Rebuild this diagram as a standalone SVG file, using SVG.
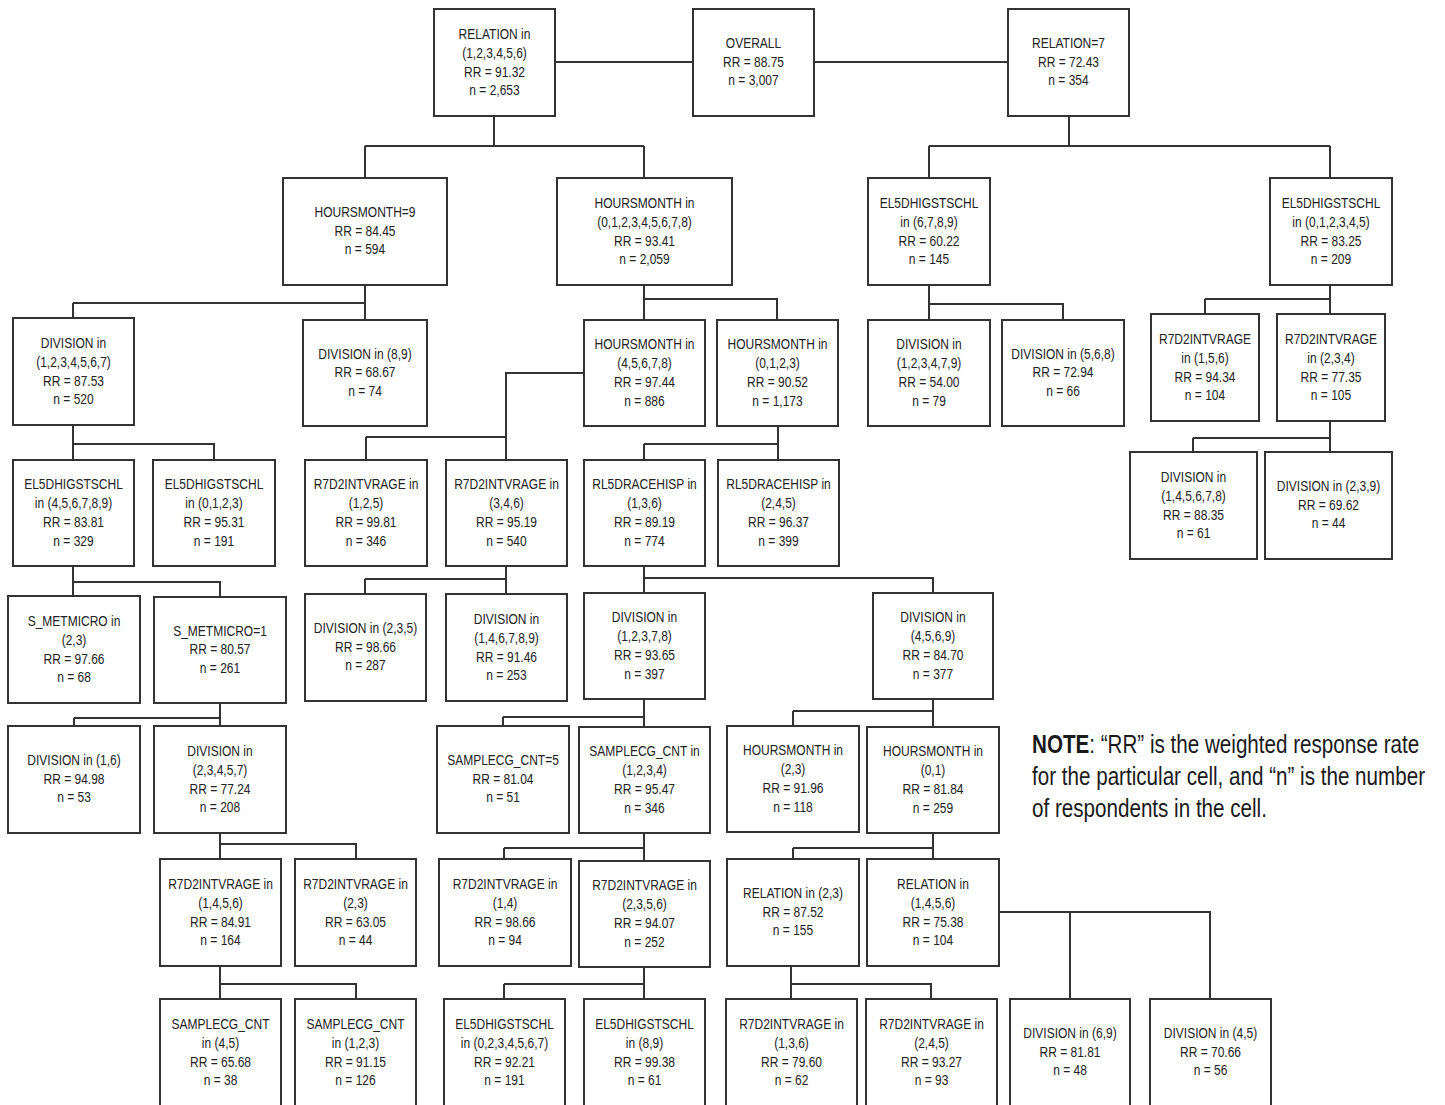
<svg xmlns="http://www.w3.org/2000/svg" width="1445" height="1105" viewBox="0 0 1445 1105">
<style>
.box{fill:#fff;stroke:#333;stroke-width:2}
.t{font-family:"Liberation Sans",Arial,sans-serif;font-size:15px;fill:#222;text-anchor:middle}
.note{font-family:"Liberation Sans",Arial,sans-serif;font-size:25px;fill:#1a1a1a}
#connectors path{fill:none;stroke:#333;stroke-width:2}
</style>
<rect width="1445" height="1105" fill="#fff"/>
<g id="connectors">
<path d="M555 62H693 M814 62H1008"/>
<path d="M494 116V146 M365 146H644 M365 146V178 M644 146V178"/>
<path d="M1069 116V146 M929 146H1330 M929 146V178 M1330 146V178"/>
<path d="M365 285V320 M73 303H365 M73 303V318"/>
<path d="M644 285V320 M644 299H777V320"/>
<path d="M929 285V320 M929 304H1063V320"/>
<path d="M1330 285V314 M1205 299H1330 M1205 299V314"/>
<path d="M73 425V460 M73 444H214V460"/>
<path d="M584 373H506V460 M366 437H506 M366 437V460"/>
<path d="M778 426V460 M644 444H778 M644 444V460"/>
<path d="M1330 421V452 M1193 438H1330 M1193 438V452"/>
<path d="M73 566V596 M73 582H220V597"/>
<path d="M506 566V594 M365 579H506 M365 579V594"/>
<path d="M644 566V593 M644 578H933V593"/>
<path d="M220 703V726 M74 718H220 M74 718V726"/>
<path d="M644 699V727 M503 717H644 M503 717V726"/>
<path d="M933 699V727 M793 711H933 M793 711V726"/>
<path d="M220 833V859 M220 844H356V859"/>
<path d="M644 833V861 M504 848H644 M504 848V859"/>
<path d="M933 833V859 M793 848H933 M793 848V859"/>
<path d="M220 966V999 M220 984H356V999"/>
<path d="M644 967V999 M504 984H644 M504 984V999"/>
<path d="M791 966V999 M791 984H931V999"/>
<path d="M999 912H1210V999 M1070 912V999"/>
</g>

<g id="n1"><rect class="box" x="434" y="9" width="121" height="107"/>
<text class="t" transform="translate(494.5 0) scale(0.8 1)"><tspan x="0" y="39">RELATION in</tspan><tspan x="0" y="57.8">(1,2,3,4,5,6)</tspan><tspan x="0" y="76.6">RR = 91.32</tspan><tspan x="0" y="95.4">n = 2,653</tspan></text></g>
<g id="n0"><rect class="box" x="693" y="9" width="121" height="107"/>
<text class="t" transform="translate(753.5 0) scale(0.8 1)"><tspan x="0" y="48.5">OVERALL</tspan><tspan x="0" y="67">RR = 88.75</tspan><tspan x="0" y="85.5">n = 3,007</tspan></text></g>
<g id="n2"><rect class="box" x="1008" y="9" width="121" height="107"/>
<text class="t" transform="translate(1068.5 0) scale(0.8 1)"><tspan x="0" y="48.5">RELATION=7</tspan><tspan x="0" y="67">RR = 72.43</tspan><tspan x="0" y="85.5">n = 354</tspan></text></g>

<g id="n3"><rect class="box" x="283" y="178" width="164" height="107"/>
<text class="t" transform="translate(365 0) scale(0.8 1)"><tspan x="0" y="217.5">HOURSMONTH=9</tspan><tspan x="0" y="236">RR = 84.45</tspan><tspan x="0" y="254.5">n = 594</tspan></text></g>
<g id="n4"><rect class="box" x="557" y="178" width="175" height="107"/>
<text class="t" transform="translate(644.5 0) scale(0.8 1)"><tspan x="0" y="208">HOURSMONTH in</tspan><tspan x="0" y="226.8">(0,1,2,3,4,5,6,7,8)</tspan><tspan x="0" y="245.6">RR = 93.41</tspan><tspan x="0" y="264.4">n = 2,059</tspan></text></g>
<g id="n5"><rect class="box" x="868" y="178" width="122" height="107"/>
<text class="t" transform="translate(929 0) scale(0.8 1)"><tspan x="0" y="208">EL5DHIGSTSCHL</tspan><tspan x="0" y="226.8">in (6,7,8,9)</tspan><tspan x="0" y="245.6">RR = 60.22</tspan><tspan x="0" y="264.4">n = 145</tspan></text></g>
<g id="n6"><rect class="box" x="1270" y="178" width="122" height="107"/>
<text class="t" transform="translate(1331 0) scale(0.8 1)"><tspan x="0" y="208">EL5DHIGSTSCHL</tspan><tspan x="0" y="226.8">in (0,1,2,3,4,5)</tspan><tspan x="0" y="245.6">RR = 83.25</tspan><tspan x="0" y="264.4">n = 209</tspan></text></g>

<g id="n7"><rect class="box" x="13" y="318" width="121" height="107"/>
<text class="t" transform="translate(73.5 0) scale(0.8 1)"><tspan x="0" y="348">DIVISION in</tspan><tspan x="0" y="366.8">(1,2,3,4,5,6,7)</tspan><tspan x="0" y="385.6">RR = 87.53</tspan><tspan x="0" y="404.4">n = 520</tspan></text></g>
<g id="n8"><rect class="box" x="303" y="320" width="124" height="106"/>
<text class="t" transform="translate(365 0) scale(0.8 1)"><tspan x="0" y="359">DIVISION in (8,9)</tspan><tspan x="0" y="377.5">RR = 68.67</tspan><tspan x="0" y="396">n = 74</tspan></text></g>
<g id="n9"><rect class="box" x="584" y="320" width="121" height="106"/>
<text class="t" transform="translate(644.5 0) scale(0.8 1)"><tspan x="0" y="349.5">HOURSMONTH in</tspan><tspan x="0" y="368.3">(4,5,6,7,8)</tspan><tspan x="0" y="387.1">RR = 97.44</tspan><tspan x="0" y="405.9">n = 886</tspan></text></g>
<g id="n10"><rect class="box" x="717" y="320" width="121" height="106"/>
<text class="t" transform="translate(777.5 0) scale(0.8 1)"><tspan x="0" y="349.5">HOURSMONTH in</tspan><tspan x="0" y="368.3">(0,1,2,3)</tspan><tspan x="0" y="387.1">RR = 90.52</tspan><tspan x="0" y="405.9">n = 1,173</tspan></text></g>
<g id="n11"><rect class="box" x="868" y="320" width="122" height="106"/>
<text class="t" transform="translate(929 0) scale(0.8 1)"><tspan x="0" y="349.5">DIVISION in</tspan><tspan x="0" y="368.3">(1,2,3,4,7,9)</tspan><tspan x="0" y="387.1">RR = 54.00</tspan><tspan x="0" y="405.9">n = 79</tspan></text></g>
<g id="n12"><rect class="box" x="1002" y="320" width="122" height="106"/>
<text class="t" transform="translate(1063 0) scale(0.8 1)"><tspan x="0" y="359">DIVISION in (5,6,8)</tspan><tspan x="0" y="377.5">RR = 72.94</tspan><tspan x="0" y="396">n = 66</tspan></text></g>
<g id="n13"><rect class="box" x="1151" y="314" width="108" height="107"/>
<text class="t" transform="translate(1205 0) scale(0.8 1)"><tspan x="0" y="344">R7D2INTVRAGE</tspan><tspan x="0" y="362.8">in (1,5,6)</tspan><tspan x="0" y="381.6">RR = 94.34</tspan><tspan x="0" y="400.4">n = 104</tspan></text></g>
<g id="n14"><rect class="box" x="1277" y="314" width="108" height="107"/>
<text class="t" transform="translate(1331 0) scale(0.8 1)"><tspan x="0" y="344">R7D2INTVRAGE</tspan><tspan x="0" y="362.8">in (2,3,4)</tspan><tspan x="0" y="381.6">RR = 77.35</tspan><tspan x="0" y="400.4">n = 105</tspan></text></g>

<g id="n15"><rect class="box" x="13" y="460" width="121" height="106"/>
<text class="t" transform="translate(73.5 0) scale(0.8 1)"><tspan x="0" y="489.5">EL5DHIGSTSCHL</tspan><tspan x="0" y="508.3">in (4,5,6,7,8,9)</tspan><tspan x="0" y="527.1">RR = 83.81</tspan><tspan x="0" y="545.9">n = 329</tspan></text></g>
<g id="n16"><rect class="box" x="153" y="460" width="122" height="106"/>
<text class="t" transform="translate(214 0) scale(0.8 1)"><tspan x="0" y="489.5">EL5DHIGSTSCHL</tspan><tspan x="0" y="508.3">in (0,1,2,3)</tspan><tspan x="0" y="527.1">RR = 95.31</tspan><tspan x="0" y="545.9">n = 191</tspan></text></g>
<g id="n17"><rect class="box" x="305" y="460" width="122" height="106"/>
<text class="t" transform="translate(366 0) scale(0.8 1)"><tspan x="0" y="489.5">R7D2INTVRAGE in</tspan><tspan x="0" y="508.3">(1,2,5)</tspan><tspan x="0" y="527.1">RR = 99.81</tspan><tspan x="0" y="545.9">n = 346</tspan></text></g>
<g id="n18"><rect class="box" x="446" y="460" width="121" height="106"/>
<text class="t" transform="translate(506.5 0) scale(0.8 1)"><tspan x="0" y="489.5">R7D2INTVRAGE in</tspan><tspan x="0" y="508.3">(3,4,6)</tspan><tspan x="0" y="527.1">RR = 95.19</tspan><tspan x="0" y="545.9">n = 540</tspan></text></g>
<g id="n19"><rect class="box" x="584" y="460" width="121" height="106"/>
<text class="t" transform="translate(644.5 0) scale(0.8 1)"><tspan x="0" y="489.5">RL5DRACEHISP in</tspan><tspan x="0" y="508.3">(1,3,6)</tspan><tspan x="0" y="527.1">RR = 89.19</tspan><tspan x="0" y="545.9">n = 774</tspan></text></g>
<g id="n20"><rect class="box" x="718" y="460" width="121" height="106"/>
<text class="t" transform="translate(778.5 0) scale(0.8 1)"><tspan x="0" y="489.5">RL5DRACEHISP in</tspan><tspan x="0" y="508.3">(2,4,5)</tspan><tspan x="0" y="527.1">RR = 96.37</tspan><tspan x="0" y="545.9">n = 399</tspan></text></g>
<g id="n21"><rect class="box" x="1130" y="452" width="127" height="107"/>
<text class="t" transform="translate(1193.5 0) scale(0.8 1)"><tspan x="0" y="482">DIVISION in</tspan><tspan x="0" y="500.8">(1,4,5,6,7,8)</tspan><tspan x="0" y="519.6">RR = 88.35</tspan><tspan x="0" y="538.4">n = 61</tspan></text></g>
<g id="n22"><rect class="box" x="1265" y="452" width="127" height="107"/>
<text class="t" transform="translate(1328.5 0) scale(0.8 1)"><tspan x="0" y="491.5">DIVISION in (2,3,9)</tspan><tspan x="0" y="510">RR = 69.62</tspan><tspan x="0" y="528.5">n = 44</tspan></text></g>

<g id="n23"><rect class="box" x="8" y="596" width="132" height="107"/>
<text class="t" transform="translate(74 0) scale(0.8 1)"><tspan x="0" y="626">S_METMICRO in</tspan><tspan x="0" y="644.8">(2,3)</tspan><tspan x="0" y="663.6">RR = 97.66</tspan><tspan x="0" y="682.4">n = 68</tspan></text></g>
<g id="n24"><rect class="box" x="154" y="597" width="132" height="106"/>
<text class="t" transform="translate(220 0) scale(0.8 1)"><tspan x="0" y="636">S_METMICRO=1</tspan><tspan x="0" y="654.5">RR = 80.57</tspan><tspan x="0" y="673">n = 261</tspan></text></g>
<g id="n25"><rect class="box" x="305" y="594" width="121" height="107"/>
<text class="t" transform="translate(365.5 0) scale(0.8 1)"><tspan x="0" y="633.5">DIVISION in (2,3,5)</tspan><tspan x="0" y="652">RR = 98.66</tspan><tspan x="0" y="670.5">n = 287</tspan></text></g>
<g id="n26"><rect class="box" x="446" y="594" width="121" height="107"/>
<text class="t" transform="translate(506.5 0) scale(0.8 1)"><tspan x="0" y="624">DIVISION in</tspan><tspan x="0" y="642.8">(1,4,6,7,8,9)</tspan><tspan x="0" y="661.6">RR = 91.46</tspan><tspan x="0" y="680.4">n = 253</tspan></text></g>
<g id="n27"><rect class="box" x="584" y="593" width="121" height="106"/>
<text class="t" transform="translate(644.5 0) scale(0.8 1)"><tspan x="0" y="622.5">DIVISION in</tspan><tspan x="0" y="641.3">(1,2,3,7,8)</tspan><tspan x="0" y="660.1">RR = 93.65</tspan><tspan x="0" y="678.9">n = 397</tspan></text></g>
<g id="n28"><rect class="box" x="873" y="593" width="120" height="106"/>
<text class="t" transform="translate(933 0) scale(0.8 1)"><tspan x="0" y="622.5">DIVISION in</tspan><tspan x="0" y="641.3">(4,5,6,9)</tspan><tspan x="0" y="660.1">RR = 84.70</tspan><tspan x="0" y="678.9">n = 377</tspan></text></g>

<g id="n29"><rect class="box" x="8" y="726" width="132" height="107"/>
<text class="t" transform="translate(74 0) scale(0.8 1)"><tspan x="0" y="765.5">DIVISION in (1,6)</tspan><tspan x="0" y="784">RR = 94.98</tspan><tspan x="0" y="802.5">n = 53</tspan></text></g>
<g id="n30"><rect class="box" x="154" y="726" width="132" height="107"/>
<text class="t" transform="translate(220 0) scale(0.8 1)"><tspan x="0" y="756">DIVISION in</tspan><tspan x="0" y="774.8">(2,3,4,5,7)</tspan><tspan x="0" y="793.6">RR = 77.24</tspan><tspan x="0" y="812.4">n = 208</tspan></text></g>
<g id="n31"><rect class="box" x="437" y="726" width="132" height="107"/>
<text class="t" transform="translate(503 0) scale(0.8 1)"><tspan x="0" y="765.5">SAMPLECG_CNT=5</tspan><tspan x="0" y="784">RR = 81.04</tspan><tspan x="0" y="802.5">n = 51</tspan></text></g>
<g id="n32"><rect class="box" x="579" y="727" width="131" height="106"/>
<text class="t" transform="translate(644.5 0) scale(0.8 1)"><tspan x="0" y="756.5">SAMPLECG_CNT in</tspan><tspan x="0" y="775.3">(1,2,3,4)</tspan><tspan x="0" y="794.1">RR = 95.47</tspan><tspan x="0" y="812.9">n = 346</tspan></text></g>
<g id="n33"><rect class="box" x="727" y="726" width="132" height="106"/>
<text class="t" transform="translate(793 0) scale(0.8 1)"><tspan x="0" y="755.5">HOURSMONTH in</tspan><tspan x="0" y="774.3">(2,3)</tspan><tspan x="0" y="793.1">RR = 91.96</tspan><tspan x="0" y="811.9">n = 118</tspan></text></g>
<g id="n34"><rect class="box" x="867" y="727" width="132" height="106"/>
<text class="t" transform="translate(933 0) scale(0.8 1)"><tspan x="0" y="756.5">HOURSMONTH in</tspan><tspan x="0" y="775.3">(0,1)</tspan><tspan x="0" y="794.1">RR = 81.84</tspan><tspan x="0" y="812.9">n = 259</tspan></text></g>

<g id="n35"><rect class="box" x="160" y="859" width="121" height="107"/>
<text class="t" transform="translate(220.5 0) scale(0.8 1)"><tspan x="0" y="889">R7D2INTVRAGE in</tspan><tspan x="0" y="907.8">(1,4,5,6)</tspan><tspan x="0" y="926.6">RR = 84.91</tspan><tspan x="0" y="945.4">n = 164</tspan></text></g>
<g id="n36"><rect class="box" x="295" y="859" width="121" height="107"/>
<text class="t" transform="translate(355.5 0) scale(0.8 1)"><tspan x="0" y="889">R7D2INTVRAGE in</tspan><tspan x="0" y="907.8">(2,3)</tspan><tspan x="0" y="926.6">RR = 63.05</tspan><tspan x="0" y="945.4">n = 44</tspan></text></g>
<g id="n37"><rect class="box" x="439" y="859" width="132" height="107"/>
<text class="t" transform="translate(505 0) scale(0.8 1)"><tspan x="0" y="889">R7D2INTVRAGE in</tspan><tspan x="0" y="907.8">(1,4)</tspan><tspan x="0" y="926.6">RR = 98.66</tspan><tspan x="0" y="945.4">n = 94</tspan></text></g>
<g id="n38"><rect class="box" x="579" y="861" width="131" height="106"/>
<text class="t" transform="translate(644.5 0) scale(0.8 1)"><tspan x="0" y="890.5">R7D2INTVRAGE in</tspan><tspan x="0" y="909.3">(2,3,5,6)</tspan><tspan x="0" y="928.1">RR = 94.07</tspan><tspan x="0" y="946.9">n = 252</tspan></text></g>
<g id="n39"><rect class="box" x="727" y="859" width="132" height="107"/>
<text class="t" transform="translate(793 0) scale(0.8 1)"><tspan x="0" y="898.5">RELATION in (2,3)</tspan><tspan x="0" y="917">RR = 87.52</tspan><tspan x="0" y="935.5">n = 155</tspan></text></g>
<g id="n40"><rect class="box" x="867" y="859" width="132" height="107"/>
<text class="t" transform="translate(933 0) scale(0.8 1)"><tspan x="0" y="889">RELATION in</tspan><tspan x="0" y="907.8">(1,4,5,6)</tspan><tspan x="0" y="926.6">RR = 75.38</tspan><tspan x="0" y="945.4">n = 104</tspan></text></g>

<g id="n41"><rect class="box" x="160" y="999" width="121" height="110"/>
<text class="t" transform="translate(220.5 0) scale(0.8 1)"><tspan x="0" y="1029">SAMPLECG_CNT</tspan><tspan x="0" y="1047.8">in (4,5)</tspan><tspan x="0" y="1066.6">RR = 65.68</tspan><tspan x="0" y="1085.4">n = 38</tspan></text></g>
<g id="n42"><rect class="box" x="295" y="999" width="121" height="110"/>
<text class="t" transform="translate(355.5 0) scale(0.8 1)"><tspan x="0" y="1029">SAMPLECG_CNT</tspan><tspan x="0" y="1047.8">in (1,2,3)</tspan><tspan x="0" y="1066.6">RR = 91.15</tspan><tspan x="0" y="1085.4">n = 126</tspan></text></g>
<g id="n43"><rect class="box" x="444" y="999" width="121" height="110"/>
<text class="t" transform="translate(504.5 0) scale(0.8 1)"><tspan x="0" y="1029">EL5DHIGSTSCHL</tspan><tspan x="0" y="1047.8">in (0,2,3,4,5,6,7)</tspan><tspan x="0" y="1066.6">RR = 92.21</tspan><tspan x="0" y="1085.4">n = 191</tspan></text></g>
<g id="n44"><rect class="box" x="584" y="999" width="121" height="110"/>
<text class="t" transform="translate(644.5 0) scale(0.8 1)"><tspan x="0" y="1029">EL5DHIGSTSCHL</tspan><tspan x="0" y="1047.8">in (8,9)</tspan><tspan x="0" y="1066.6">RR = 99.38</tspan><tspan x="0" y="1085.4">n = 61</tspan></text></g>
<g id="n45"><rect class="box" x="726" y="999" width="131" height="110"/>
<text class="t" transform="translate(791.5 0) scale(0.8 1)"><tspan x="0" y="1029">R7D2INTVRAGE in</tspan><tspan x="0" y="1047.8">(1,3,6)</tspan><tspan x="0" y="1066.6">RR = 79.60</tspan><tspan x="0" y="1085.4">n = 62</tspan></text></g>
<g id="n46"><rect class="box" x="866" y="999" width="131" height="110"/>
<text class="t" transform="translate(931.5 0) scale(0.8 1)"><tspan x="0" y="1029">R7D2INTVRAGE in</tspan><tspan x="0" y="1047.8">(2,4,5)</tspan><tspan x="0" y="1066.6">RR = 93.27</tspan><tspan x="0" y="1085.4">n = 93</tspan></text></g>
<g id="n47"><rect class="box" x="1010" y="999" width="120" height="110"/>
<text class="t" transform="translate(1070 0) scale(0.8 1)"><tspan x="0" y="1038.5">DIVISION in (6,9)</tspan><tspan x="0" y="1057">RR = 81.81</tspan><tspan x="0" y="1075.5">n = 48</tspan></text></g>
<g id="n48"><rect class="box" x="1150" y="999" width="121" height="110"/>
<text class="t" transform="translate(1210.5 0) scale(0.8 1)"><tspan x="0" y="1038.5">DIVISION in (4,5)</tspan><tspan x="0" y="1057">RR = 70.66</tspan><tspan x="0" y="1075.5">n = 56</tspan></text></g>

<g id="note">
<text class="note" transform="translate(1032 0) scale(0.825 1)"><tspan x="0" y="753"><tspan font-weight="bold">NOTE</tspan>: “RR” is the weighted response rate</tspan><tspan x="0" y="785">for the particular cell, and “n” is the number</tspan><tspan x="0" y="817">of respondents in the cell.</tspan></text>
</g>
</svg>
